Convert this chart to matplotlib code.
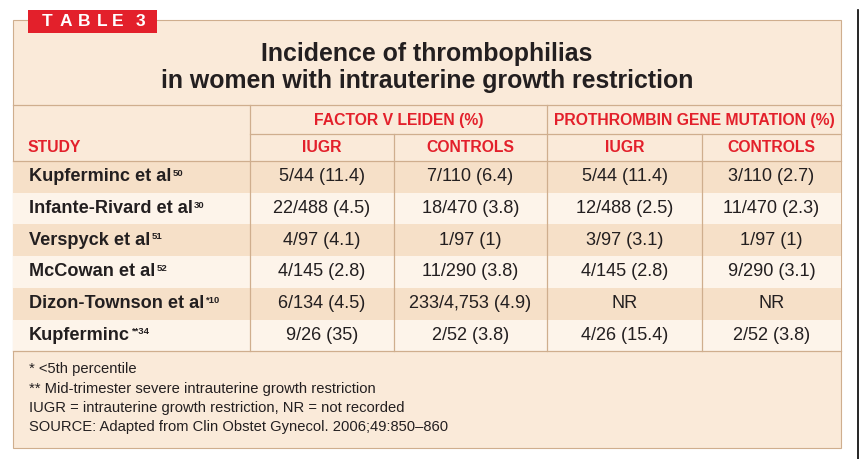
import matplotlib.pyplot as plt
from matplotlib.patches import Rectangle

plt.rcParams['font.family'] = ['Liberation Sans', 'DejaVu Sans']

# table contents
studies = ["Kupferminc et al", "Infante-Rivard et al", "Verspyck et al",
           "McCowan et al", "Dizon-Townson et al", "Kupferminc"]
refs = ["50", "30", "51", "52", "*10", "**34"]
fvl_iugr = ["5/44 (11.4)", "22/488 (4.5)", "4/97 (4.1)", "4/145 (2.8)",
            "6/134 (4.5)", "9/26 (35)"]
fvl_ctrl = ["7/110 (6.4)", "18/470 (3.8)", "1/97 (1)", "11/290 (3.8)",
            "233/4,753 (4.9)", "2/52 (3.8)"]
pgm_iugr = ["5/44 (11.4)", "12/488 (2.5)", "3/97 (3.1)", "4/145 (2.8)",
            "NR", "4/26 (15.4)"]
pgm_ctrl = ["3/110 (2.7)", "11/470 (2.3)", "1/97 (1)", "9/290 (3.1)",
            "NR", "2/52 (3.8)"]
group_labels = ["FACTOR V LEIDEN (%)", "PROTHROMBIN GENE MUTATION (%)"]
sub_labels = ["IUGR", "CONTROLS", "IUGR", "CONTROLS"]
title_lines = ["Incidence of thrombophilias",
               "in women with intrauterine growth restriction"]
notes = ["* <5th percentile",
         "** Mid-trimester severe intrauterine growth restriction",
         "IUGR = intrauterine growth restriction, NR = not recorded",
         "SOURCE: Adapted from Clin Obstet Gynecol. 2006;49:850\u2013860"]

# colours
PANEL = "#FAEAD9"
DARK = "#F6E0C8"
LIGHT = "#FDF4EA"
LINE = "#CFAE8E"
RED = "#E3202B"
INK = "#231F20"

fig = plt.figure(figsize=(8.66, 4.59), dpi=100)
fig.patch.set_facecolor("white")
ax = fig.add_axes([0, 0, 1, 1])
ax.set_xlim(0, 866)
ax.set_ylim(459, 0)
ax.axis("off")

# layout (pixels)
L, R, T, B = 13, 841, 20, 448
col_x = [250, 394, 547, 702, R]
y_title_line = 105
y_group_line = 134
y_head_line = 161
row_h = 31.7
n = len(studies)
y_body_end = y_head_line + n * row_h

ax.add_patch(Rectangle((L, T), R - L, B - T, facecolor=PANEL, edgecolor=LINE, lw=0.8))
for i in range(n):
    y0 = y_head_line + i * row_h
    ax.add_patch(Rectangle((L, y0), R - L, row_h,
                           facecolor=DARK if i % 2 == 0 else LIGHT, lw=0))

# grid lines
for y in (y_title_line, y_head_line, y_body_end):
    ax.plot([L, R], [y, y], color=LINE, lw=0.9)
ax.plot([col_x[0], R], [y_group_line, y_group_line], color=LINE, lw=0.9)
for x in (col_x[0], col_x[2]):
    ax.plot([x, x], [y_title_line, y_body_end], color=LINE, lw=0.9)
for x in (col_x[1], col_x[3]):
    ax.plot([x, x], [y_group_line, y_body_end], color=LINE, lw=0.9)

# black rule at right
ax.plot([858, 858], [10, 459], color="black", lw=1.2)

# TABLE 3 tag
ax.add_patch(Rectangle((28, 10), 129, 23, facecolor=RED, lw=0, zorder=5))
for ch, cx in zip("TABLE3", [47.5, 65.5, 84, 102, 117.5, 140]):
    ax.text(cx, 21.5, ch, color="white", fontsize=12.5, fontweight="bold",
            ha="center", va="center", zorder=6)

# title
ax.text(427, 54, title_lines[0], fontsize=17.9, fontweight="bold", color=INK,
        ha="center", va="center")
ax.text(427, 81, title_lines[1], fontsize=17.9, fontweight="bold", color=INK,
        ha="center", va="center")

# headers
HS = 11.3
ax.text((col_x[0] + col_x[2]) / 2, 120, group_labels[0], fontsize=HS,
        fontweight="bold", color=RED, ha="center", va="center")
ax.text((col_x[2] + col_x[4]) / 2, 120, group_labels[1], fontsize=HS,
        fontweight="bold", color=RED, ha="center", va="center")
ax.text(28, 148, "STUDY", fontsize=HS, fontweight="bold", color=RED,
        ha="left", va="center")
for j, lab in enumerate(sub_labels):
    ax.text((col_x[j] + col_x[j + 1]) / 2, 148, lab, fontsize=HS,
            fontweight="bold", color=RED, ha="center", va="center")

# body
fig.canvas.draw()
renderer = fig.canvas.get_renderer()
cols = [fvl_iugr, fvl_ctrl, pgm_iugr, pgm_ctrl]
for i in range(n):
    yc = y_head_line + (i + 0.5) * row_h
    t = ax.text(29, yc, studies[i], fontsize=13.1, fontweight="bold",
                color=INK, ha="left", va="center")
    bb = t.get_window_extent(renderer)
    ax.text(bb.x1 + 1, yc - 3.5, refs[i], fontsize=6.8, fontweight="bold",
            color=INK, ha="left", va="center")
    for j, col in enumerate(cols):
        ax.text((col_x[j] + col_x[j + 1]) / 2, yc, col[i], fontsize=13.1,
                color=INK, ha="center", va="center")

# footnotes
for k, note in enumerate(notes):
    ax.text(29, 369 + k * 19.5, note, fontsize=10.6, color=INK,
            ha="left", va="center")

fig.savefig("out.png", dpi=100, facecolor="white")
